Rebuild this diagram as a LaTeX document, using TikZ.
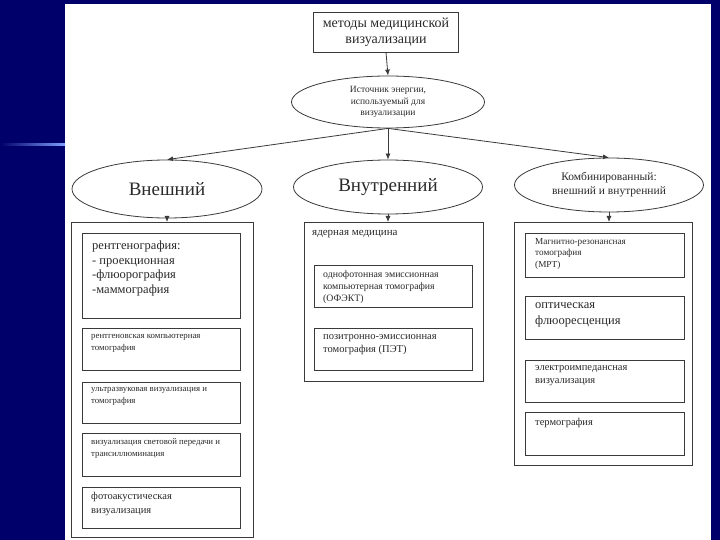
\documentclass[tikz,border=0pt]{standalone}
\usepackage{fontspec}
\setmainfont{Liberation Serif}
\usetikzlibrary{shapes.geometric,arrows.meta}
\definecolor{navy}{HTML}{00006B}
\definecolor{lblue}{HTML}{7F9FFF}
\definecolor{ink}{HTML}{2A2A2A}
\definecolor{edge}{HTML}{3A3A3A}
\tikzset{
  box/.style={draw=edge, line width=0.8pt, rectangle, inner sep=0pt},
  oval/.style={draw=edge, line width=0.8pt, ellipse, inner sep=0pt, align=center, text=ink},
  lbl/.style={anchor=north west, align=left, inner sep=0pt, text=ink},
  arr/.style={draw=edge, line width=0.8pt, -{Latex[length=6pt,width=5pt]}},
}
\begin{document}
\begin{tikzpicture}[x=1pt,y=-1pt]
\useasboundingbox (0,0) rectangle (720,540);
\fill[navy] (0,0) rectangle (720,540);
\fill[white] (65,4) rectangle (711,540);
\shade[left color=navy, right color=lblue] (0,144) rectangle (65,145.5);

% top
\node[box, minimum width=145, minimum height=40, align=center, text=ink,
      font=\fontsize{14}{15.5}\selectfont] (top) at (386,32) {методы медицинской\\визуализации};
\node[oval, minimum width=193, minimum height=52, font=\fontsize{9.5}{11.5}\selectfont] (src) at (388,102)
  {Источник энергии,\\используемый для\\визуализации};

\node[oval, minimum width=190, minimum height=58, font=\fontsize{19}{21}\selectfont] (ext) at (167,189) {Внешний};
\node[oval, minimum width=189, minimum height=54, font=\fontsize{19}{21}\selectfont] (int) at (388,187) {Внутренний};
\node[oval, minimum width=189, minimum height=54, font=\fontsize{11.5}{14}\selectfont] (comb) at (609,185)
  {Комбинированный:\\внешний и внутренний};

\draw[arr] (top.south) -- (src.north);
\draw[arr] (src.south) -- (ext.north);
\draw[arr] (src.south) -- (int.north);
\draw[arr] (src.south) -- (comb.north);

% outer boxes
\node[box, minimum width=182, minimum height=315, anchor=north west] (L) at (71,222) {};
\node[box, minimum width=179, minimum height=159, anchor=north west] (M) at (304,222) {};
\node[box, minimum width=178, minimum height=243, anchor=north west] (R) at (514,222) {};

\draw[arr] (ext.south) -- (L.north -| ext.south);
\draw[arr] (int.south) -- (M.north -| int.south);
\draw[arr] (comb.south) -- (R.north -| comb.south);

% left inner
\node[box, minimum width=158, minimum height=85, anchor=north west] (L1) at (82,233) {};
\node[box, minimum width=158, minimum height=42, anchor=north west] (L2) at (82,328) {};
\node[box, minimum width=158, minimum height=41, anchor=north west] (L3) at (82,382) {};
\node[box, minimum width=158, minimum height=43, anchor=north west] (L4) at (82,433) {};
\node[box, minimum width=158, minimum height=41, anchor=north west] (L5) at (82,487) {};
\node[lbl, font=\fontsize{12.5}{14.5}\selectfont] at ([shift={(10,8)}]L1.north west)
  {рентгенография:\\- проекционная\\-флюорография\\-маммография};
\node[lbl, font=\fontsize{8.8}{12}\selectfont] at ([shift={(9,6)}]L2.north west)
  {рентгеновская компьютерная\\томография};
\node[lbl, font=\fontsize{8.8}{12}\selectfont] at ([shift={(9,5)}]L3.north west)
  {ультразвуковая визуализация и\\томография};
\node[lbl, font=\fontsize{8.8}{12}\selectfont] at ([shift={(9,5)}]L4.north west)
  {визуализация световой передачи и\\трансиллюминация};
\node[lbl, font=\fontsize{10.5}{14}\selectfont] at ([shift={(9,5)}]L5.north west)
  {фотоакустическая\\визуализация};

% middle inner
\node[lbl, font=\fontsize{11}{13}\selectfont] (nm) at (312,230) {ядерная медицина};
\node[box, minimum width=158, minimum height=42, anchor=north west] (M1) at (314,265) {};
\node[box, minimum width=158, minimum height=42, anchor=north west] (M2) at (314,328) {};
\node[lbl, font=\fontsize{9.8}{12}\selectfont] at ([shift={(9,5)}]M1.north west)
  {однофотонная эмиссионная\\компьютерная томография\\(ОФЭКТ)};
\node[lbl, font=\fontsize{10.5}{13.5}\selectfont] at ([shift={(9,6)}]M2.north west)
  {позитронно-эмиссионная\\томография (ПЭТ)};

% right inner
\node[box, minimum width=159, minimum height=44, anchor=north west] (R1) at (525,233) {};
\node[box, minimum width=159, minimum height=43, anchor=north west] (R2) at (525,296) {};
\node[box, minimum width=159, minimum height=42, anchor=north west] (R3) at (525,360) {};
\node[box, minimum width=159, minimum height=43, anchor=north west] (R4) at (525,412) {};
\node[lbl, font=\fontsize{9.2}{11.5}\selectfont] at ([shift={(10,5)}]R1.north west)
  {Магнитно-резонансная\\томография\\(МРТ)};
\node[lbl, font=\fontsize{12.5}{16}\selectfont] at ([shift={(10,6)}]R2.north west)
  {оптическая\\флюоресценция};
\node[lbl, font=\fontsize{10.5}{13}\selectfont] at ([shift={(10,5)}]R3.north west)
  {электроимпедансная\\визуализация};
\node[lbl, font=\fontsize{10.5}{13}\selectfont] at ([shift={(10,6)}]R4.north west)
  {термография};
\end{tikzpicture}
\end{document}
